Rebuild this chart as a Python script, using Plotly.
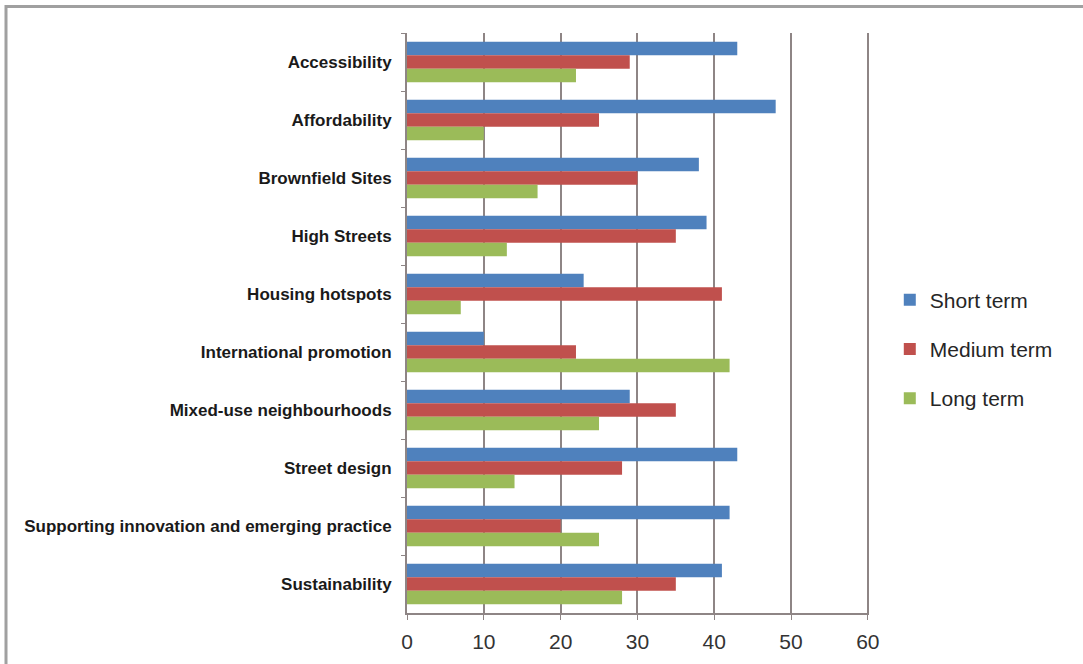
import plotly.graph_objects as go

categories = ["Accessibility", "Affordability", "Brownfield Sites", "High Streets",
              "Housing hotspots", "International promotion", "Mixed-use neighbourhoods",
              "Street design", "Supporting innovation and emerging practice", "Sustainability"]
short_term = [43, 48, 38, 39, 23, 10, 29, 43, 42, 41]
medium_term = [29, 25, 30, 35, 41, 22, 35, 28, 20, 35]
long_term = [22, 10, 17, 13, 7, 42, 25, 14, 25, 28]
x_ticks = [0, 10, 20, 30, 40, 50, 60]

series = [("Short term", short_term, "#4F81BD"),
          ("Medium term", medium_term, "#C0504D"),
          ("Long term", long_term, "#9BBB59")]

fig = go.Figure()
for i, (name, vals, col) in enumerate(series):
    fig.add_trace(go.Bar(y=categories, x=vals, name=name, orientation="h",
                         marker=dict(color=col, line=dict(width=0)),
                         legendgroup=f"g{i}"))

fig.update_layout(
    width=1083, height=664,
    margin=dict(l=407, r=214, t=33, b=51),
    paper_bgcolor="white", plot_bgcolor="white",
    barmode="group", bargap=0.3, bargroupgap=0.0,
    showlegend=True,
    legend=dict(x=1.045, y=0.575, xanchor="left", yanchor="top",
                font=dict(family="Arial, sans-serif", size=21, color="#262626"),
                tracegroupgap=19, bgcolor="rgba(0,0,0,0)"),
    xaxis=dict(range=[0, 60.15], tickvals=x_ticks, showgrid=True, gridcolor="#8E8585", gridwidth=2,
               showline=True, linecolor="#8E8585", linewidth=2, ticks="outside", ticklen=5,
               tickcolor="#8E8585", zeroline=False, ticklabelstandoff=4,
               tickfont=dict(family="Arial, sans-serif", size=21, color="#333333")),
    yaxis=dict(autorange="reversed", showline=True, linecolor="#8E8585", linewidth=2,
               ticks="outside", ticklen=4, tickcolor="#8E8585", tickson="boundaries",
               showgrid=False, ticklabelstandoff=10,
               tickfont=dict(family="Arial, sans-serif", size=17, color="#1a1a1a", weight="bold")),
    shapes=[dict(type="rect", xref="paper", yref="paper",
                 x0=(6 - 407) / 462, x1=(1110 - 407) / 462,
                 y0=(613 - 690) / 580, y1=(613 - 6.5) / 580,
                 line=dict(color="#A0A0A0", width=3), layer="below")],
)
fig.write_html("out.html")
